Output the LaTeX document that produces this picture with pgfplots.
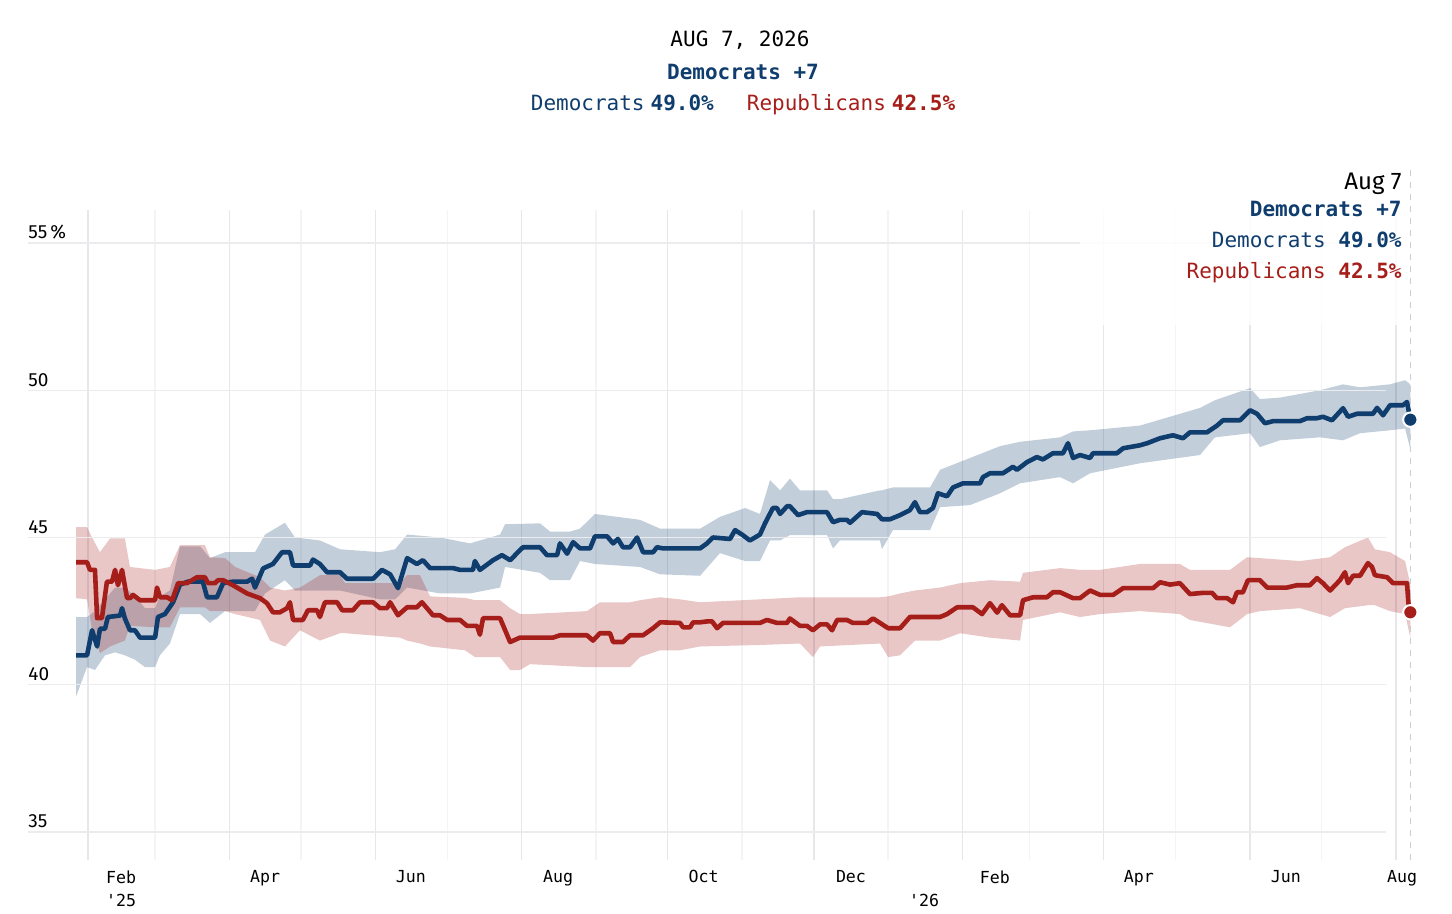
\documentclass[border=0pt]{standalone}
\usepackage{pgfplots}
\pgfplotsset{compat=1.18}
\usepackage{pgfplotstable}
\usepgfplotslibrary{fillbetween}
\usepackage{fontspec}
\setmainfont{Fira Sans}
\newfontfamily\mono{DejaVu Sans Mono}
\definecolor{dem}{RGB}{15,61,110}
\definecolor{rep}{RGB}{166,30,26}
\definecolor{gmaj}{RGB}{230,230,235}
\definecolor{gmin}{RGB}{244,244,247}
\definecolor{ghor}{RGB}{236,236,239}
\definecolor{dashc}{RGB}{200,205,215}

\pgfplotstableread{
d v
-5 41.0
-0.4 41.0
1.7 41.85
3.8 41.3
5.0 41.9
7.1 41.9
8.3 42.3
13.4 42.35
14.2 42.6
15.4 42.25
17.5 41.85
19.6 41.85
21.7 41.6
28.0 41.6
29.2 42.3
32.1 42.4
35.5 42.8
38.4 43.4
41.7 43.5
46.8 43.5
47.6 43.6
49.7 42.97
53.8 42.97
56.4 43.45
60.5 43.5
66.4 43.5
68.5 43.6
69.7 43.3
73.1 43.95
77.2 44.1
81.0 44.5
84.3 44.5
85.6 44.05
92.7 44.05
93.9 44.25
96.8 44.1
99.8 43.82
105.2 43.82
108.1 43.6
119.0 43.6
122.7 43.9
126.1 43.75
129.4 43.28
133.2 44.3
137.3 44.1
139.8 44.23
142.8 43.96
152.4 43.96
155.3 43.9
160.7 43.9
161.5 44.2
163.6 43.9
169.1 44.23
172.8 44.4
176.2 44.23
179.5 44.5
181.6 44.67
188.7 44.67
191.6 44.4
195.8 44.4
197.0 44.8
200.0 44.45
202.5 44.84
205.4 44.63
209.6 44.63
211.6 45.04
216.7 45.04
219.2 44.8
221.2 44.95
223.3 44.67
226.3 44.67
229.2 45.0
231.7 44.5
235.9 44.5
237.5 44.67
240.0 44.63
255.5 44.63
258.4 44.8
260.9 45.0
268.0 44.95
270.1 45.25
273.0 45.1
276.3 44.9
280.5 45.1
282.6 45.48
285.9 46.0
287.6 46.0
288.9 45.8
291.8 46.06
293.0 46.06
296.4 45.76
300.1 45.86
308.5 45.86
311.0 45.52
313.9 45.6
316.8 45.6
318.1 45.5
323.1 45.86
329.4 45.8
331.4 45.62
334.8 45.62
339.0 45.76
343.1 45.93
345.2 46.2
347.3 45.86
350.2 45.86
352.7 46.0
354.8 46.5
358.6 46.4
361.1 46.7
365.3 46.84
372.4 46.84
373.6 47.05
376.5 47.18
381.9 47.18
386.1 47.4
387.8 47.3
392.0 47.56
396.1 47.73
398.6 47.65
402.8 47.86
407.0 47.86
409.1 48.2
411.2 47.7
414.1 47.8
418.3 47.7
419.5 47.86
429.5 47.86
432.1 48.03
439.1 48.13
442.1 48.2
447.5 48.37
452.9 48.47
457.1 48.37
460.0 48.57
467.1 48.57
471.3 48.8
473.8 48.98
480.9 48.98
485.1 49.32
488.0 49.2
491.3 48.88
494.7 48.95
505.9 48.95
508.9 49.05
513.0 49.05
515.5 49.1
519.3 48.98
523.9 49.39
526.0 49.1
529.7 49.2
536.4 49.2
538.1 49.4
540.6 49.15
543.5 49.49
548.9 49.49
550.6 49.6
552.0 49.0
}\demline

\pgfplotstableread{
d v
-5 44.16
-0.4 44.16
0.8 43.9
2.9 43.9
3.8 42.26
5.8 42.26
7.9 43.5
10.0 43.5
11.3 43.9
12.5 43.38
14.2 43.9
16.3 42.94
17.5 42.94
18.8 43.05
21.7 42.87
28.0 42.87
28.8 43.3
30.1 42.97
33.0 42.97
35.1 42.87
37.6 43.45
41.3 43.45
45.5 43.65
48.8 43.65
50.1 43.45
53.0 43.45
54.3 43.55
56.4 43.55
60.5 43.38
66.4 43.1
71.8 42.94
74.7 42.77
77.2 42.46
80.1 42.46
83.1 42.6
84.3 42.8
85.6 42.2
89.7 42.2
91.8 42.53
95.6 42.53
96.8 42.3
98.9 42.8
104.0 42.8
106.1 42.53
110.6 42.53
113.5 42.8
119.0 42.8
121.9 42.6
124.8 42.6
126.1 42.8
129.4 42.36
133.2 42.63
137.3 42.63
139.4 42.8
144.0 42.36
146.9 42.36
149.9 42.2
155.3 42.2
158.2 42.0
162.4 42.0
163.6 41.7
164.9 42.26
172.0 42.26
176.2 41.45
180.3 41.6
194.1 41.6
197.0 41.68
208.3 41.68
210.8 41.5
213.7 41.75
217.9 41.75
219.2 41.45
223.3 41.45
226.3 41.68
231.7 41.68
235.9 41.92
238.8 42.12
247.1 42.1
248.4 41.95
251.3 41.95
252.6 42.12
255.5 42.12
258.4 42.15
260.5 42.15
262.6 41.92
265.1 42.1
280.5 42.1
283.4 42.2
287.6 42.1
291.8 42.1
293.0 42.25
297.2 42.0
300.1 42.0
302.6 41.85
305.6 42.05
308.5 42.05
310.6 41.85
312.7 42.2
316.8 42.2
319.3 42.1
325.2 42.1
327.7 42.25
330.6 42.1
334.0 41.92
339.0 41.92
343.1 42.3
355.7 42.3
358.6 42.4
362.8 42.63
369.4 42.63
373.2 42.4
376.5 42.77
379.5 42.45
381.5 42.7
384.9 42.36
389.1 42.36
390.3 42.87
394.5 42.97
400.3 42.97
402.8 43.14
405.8 43.14
411.2 42.94
414.1 42.94
418.3 43.2
422.5 43.05
427.9 43.05
432.1 43.28
444.6 43.28
447.5 43.48
451.7 43.4
455.8 43.45
460.0 43.08
465.4 43.12
469.2 43.12
471.3 42.94
475.5 42.94
478.0 42.8
479.6 43.14
482.1 43.14
484.2 43.55
489.2 43.55
492.2 43.3
500.5 43.3
504.7 43.38
510.1 43.38
513.0 43.62
515.5 43.45
518.5 43.2
522.6 43.55
524.7 43.82
526.0 43.45
528.1 43.7
531.0 43.7
534.3 44.13
536.0 44.0
537.2 43.72
542.3 43.65
544.8 43.45
550.6 43.45
551.2 42.77
552.0 42.46
}\repline

\pgfplotstableread{
d lo hi
-5 39.6 42.3
-0.4 40.6 42.3
2.9 40.5 42.5
7.1 41.0 42.9
11.3 41.1 43.3
15.4 41.0 43.3
19.6 40.85 43.0
23.8 40.6 42.6
28 40.6 42.6
30 41.0 43.0
34.2 41.4 43.2
38.4 42.4 44.7
46.8 42.4 44.7
50.9 42.1 44.3
57.2 42.5 44.5
69.7 42.5 44.5
73.9 43.1 45.1
82.2 43.55 45.5
86.4 43.2 45.0
96.8 43.2 44.9
105.2 43.2 44.6
121.9 42.9 44.5
128.2 42.9 44.6
133.2 43.3 45.1
146.9 43.1 45.0
159.5 43.1 44.8
172 43.3 45.1
174.1 44.0 45.45
188.7 43.8 45.48
192.9 43.55 45.2
201.2 43.55 45.2
205.4 44.2 45.3
211.6 44.1 45.8
230.4 44.0 45.6
238.8 43.75 45.3
255.5 43.7 45.3
263.8 44.47 45.7
274.3 44.2 46.0
280.5 44.2 45.8
284.7 44.9 46.95
288.9 44.9 46.6
293 45.08 47.0
297.2 45.08 46.6
308.5 45.08 46.6
311 44.63 46.3
313.9 44.9 46.3
330.6 44.9 46.6
331.4 44.6 46.6
336 45.25 46.7
351.5 45.25 46.7
355.7 46.03 47.3
368.2 46.1 47.7
380.7 46.5 48.1
389.1 46.84 48.25
405.8 47.05 48.4
411.2 46.84 48.6
418.3 47.18 48.64
439.1 47.52 48.8
464.2 47.8 49.4
470.4 48.4 49.66
485.1 48.54 50.07
489.2 48.07 49.7
497.6 48.3 49.75
514.3 48.4 50.0
523.9 48.3 50.2
531 48.54 50.1
543.5 48.64 50.2
549.8 48.7 50.34
552 48.0 50.2
}\demband

\pgfplotstableread{
d lo hi
-5 42.94 45.35
-0.4 42.9 45.35
1.7 41.85 45.0
5 41.07 44.5
9.2 41.3 44.97
15.4 41.5 44.97
17.5 42.0 44.0
28 41.95 43.9
34.2 41.95 44.0
38.4 42.63 44.74
48.8 42.63 44.74
50.9 42.5 44.33
57.2 42.5 44.3
61.4 42.4 44.0
71.8 42.2 43.65
76 41.5 43.3
82.2 41.3 43.2
88.5 41.85 43.3
96.8 41.5 43.72
105.2 41.75 43.72
107.3 41.75 43.45
130.2 41.6 43.45
133.2 41.5 43.72
138.6 41.4 43.72
142.8 41.3 43.0
157.4 41.17 42.95
161.5 40.94 42.87
172 40.94 42.87
176.2 40.5 42.6
180.3 40.5 42.4
184.5 40.7 42.4
208.3 40.6 42.5
213.7 40.6 42.8
226.3 40.6 42.8
230.4 40.94 42.87
238.8 41.17 42.97
247.1 41.17 42.9
255.5 41.3 42.8
280.5 41.35 42.9
297.2 41.4 42.97
302.6 40.94 42.97
305.6 41.3 42.97
330.6 41.4 42.97
334 40.94 43.0
339 41.0 43.1
345.2 41.5 43.2
355.7 41.5 43.3
364.1 41.75 43.45
376.5 41.6 43.55
389.1 41.5 43.5
390.3 42.2 43.8
405.8 42.46 43.96
414.1 42.3 43.9
422.5 42.4 43.9
439.1 42.5 44.1
455.8 42.4 44.1
460 42.2 43.9
476.7 41.95 43.9
483.8 42.4 44.33
489.2 42.5 44.3
505.9 42.6 44.2
518.5 42.3 44.33
524.7 42.6 44.67
534.3 42.7 45.0
537.2 42.7 44.6
543.5 42.5 44.5
549.8 42.4 44.2
552 41.6 43.4
}\repband

\begin{document}
\begin{tikzpicture}
\path (0,0) rectangle (726pt,457pt);
\begin{axis}[
  at={(14pt,27pt)}, anchor=south west,
  scale only axis, width=696pt, height=325pt,
  xmin=-25.05, xmax=556.03, ymin=34.05, ymax=56.12,
  axis line style={draw=none},
  major tick length=0pt, minor tick length=0pt,
  clip=false,
  xtick={13.8,73.9,134.8,196.2,257,318.5,349,378.6,438.7,500,548.6},
  xticklabels={{Feb\\'25},Apr,Jun,Aug,Oct,Dec,{\phantom{Feb}\\'26},Feb,Apr,Jun,Aug},
  xticklabel style={font=\mono\fontsize{8.3}{11.5}\selectfont, anchor=north, inner sep=0pt, yshift=-5pt, align=center},
  minor xtick={28,89,150,212,273,334,393,454,515},
  xminorgrids=true,
  minor grid style={color=gmin, line width=0.75pt},
  extra x ticks={0,59,120,181,242,303,365,424,485,546},
  extra x tick labels={},
  extra x tick style={xmajorgrids=true, major grid style={color=gmaj, line width=0.75pt}},
  ytick={35,40,45,50,55},
  yticklabels={35,40,45,50,55\,\%},
  yticklabel style={anchor=south west, inner sep=0pt, font=\fontsize{9.5}{11}\selectfont, yshift=1.8pt},
]
% horizontal grid lines
\draw[ghor, line width=0.7pt] (axis cs:-25.05,35) -- (axis cs:541.8,35);
\draw[ghor, line width=0.7pt] (axis cs:-25.05,40) -- (axis cs:541.8,40);
\draw[ghor, line width=0.7pt] (axis cs:-25.05,45) -- (axis cs:541.8,45);
\draw[ghor, line width=0.7pt] (axis cs:-25.05,50) -- (axis cs:541.8,50);
\draw[ghor, line width=0.7pt] (axis cs:-25.05,55) -- (axis cs:541.8,55);
% white box behind annotation
\fill[white, fill opacity=0.88] (axis cs:414.1,56.2) rectangle (axis cs:549.8,52.22);
% dashed line at last date
\draw[dashc, dashed, line width=0.8pt] (axis cs:552,34.05) -- (axis cs:552,57.65);

% bands
\addplot[draw=none, name path=bhi] table[x=d,y=hi]{\demband};
\addplot[draw=none, name path=blo] table[x=d,y=lo]{\demband};
\addplot[fill=dem, fill opacity=0.25, draw=none] fill between[of=bhi and blo];
\addplot[draw=none, name path=rhi] table[x=d,y=hi]{\repband};
\addplot[draw=none, name path=rlo] table[x=d,y=lo]{\repband};
\addplot[fill=rep, fill opacity=0.25, draw=none] fill between[of=rhi and rlo];

% lines
\addplot[dem, line width=2.3pt, line join=round] table[x=d,y=v]{\demline};
\addplot[rep, line width=2.3pt, line join=round] table[x=d,y=v]{\repline};

% end dots
\addplot[only marks, mark=*, mark size=3.6pt, mark options={fill=dem, draw=white, line width=1pt}] coordinates {(552,49.0)};
\addplot[only marks, mark=*, mark size=3.6pt, mark options={fill=rep, draw=white, line width=1pt}] coordinates {(552,42.46)};
\end{axis}

% title
\node[anchor=base, font=\mono\fontsize{10.5}{12}\selectfont] at (370pt,433.5pt) {AUG 7, 2026};
\node[anchor=base, font=\mono\bfseries\fontsize{10.5}{12}\selectfont, text=dem] at (371.5pt,417.25pt) {Democrats +7};
\node[anchor=base, font=\mono\fontsize{10.5}{12}\selectfont] at (371.5pt,401.75pt) {{\color{dem}Democrats\hspace{3pt}\textbf{49.0\%}}\hspace{16.5pt}{\color{rep}Republicans\hspace{3pt}\textbf{42.5\%}}};

% annotation
\node[anchor=base east, inner sep=0pt, font=\fontsize{12}{14}\selectfont] at (701pt,362.25pt) {Aug 7};
\node[anchor=base east, inner sep=0pt, font=\mono\bfseries\fontsize{10.5}{12}\selectfont, text=dem] at (701pt,348.75pt) {Democrats +7};
\node[anchor=base east, inner sep=0pt, font=\mono\fontsize{10.5}{12}\selectfont, text=dem] at (701pt,333.25pt) {Democrats \textbf{49.0\%}};
\node[anchor=base east, inner sep=0pt, font=\mono\fontsize{10.5}{12}\selectfont, text=rep] at (701pt,317.75pt) {Republicans \textbf{42.5\%}};
\end{tikzpicture}
\end{document}
